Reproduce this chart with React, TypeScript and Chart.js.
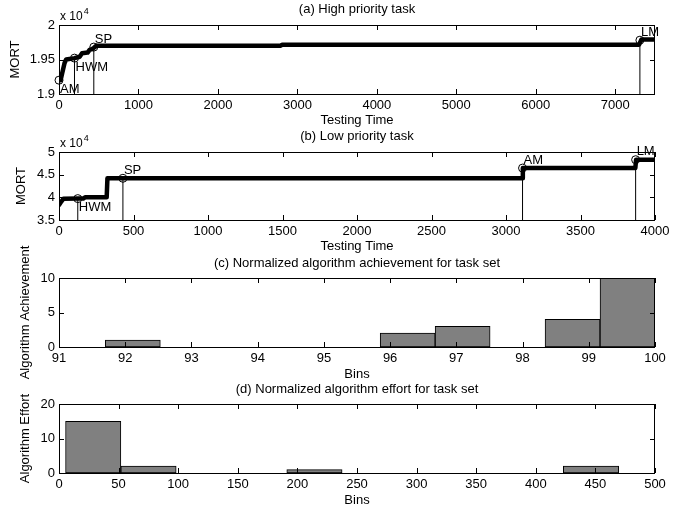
import React, { useEffect, useRef } from 'react';
import { Chart, registerables } from 'chart.js';

Chart.register(...registerables);

const FONT_FAMILY = '"Liberation Sans", Arial, Helvetica, sans-serif';
const FS = 13;

// (a) High priority task
const highTime = [0, 20, 40, 70, 90, 195, 260, 290, 360, 385, 415, 440, 470, 2790, 2810, 7300, 7330, 7500];
const highMort = [19200, 19200, 19300, 19450, 19500, 19520, 19540, 19590, 19600, 19640, 19650, 19670, 19700, 19700, 19715, 19715, 19790, 19790];
const highMarkName = ['AM', 'HWM', 'SP', 'LM'];
const highMarkTime = [0, 195, 438, 7310];
const highMarkMort = [19200, 19520, 19680, 19780];
const highMarkSide = ['below', 'below', 'above', 'above'];
const highXTicks = [0, 1000, 2000, 3000, 4000, 5000, 6000, 7000];
const highYTicks = [19000, 19500, 20000];

// (b) Low priority task
const lowTime = [0, 10, 30, 126, 165, 175, 320, 325, 3108, 3113, 3868, 3873, 4000];
const lowMort = [38300, 38800, 39700, 39720, 39750, 40000, 40000, 44200, 44200, 46450, 46450, 48300, 48300];
const lowMarkName = ['HWM', 'SP', 'AM', 'LM'];
const lowMarkTime = [126, 429, 3111, 3870];
const lowMarkMort = [39720, 44200, 46450, 48300];
const lowMarkSide = ['below', 'above', 'above', 'above'];
const lowXTicks = [0, 500, 1000, 1500, 2000, 2500, 3000, 3500, 4000];
const lowYTicks = [35000, 40000, 45000, 50000];

// (c) Normalized algorithm achievement histogram
const achieveBins = [92.115, 92.945, 93.775, 94.605, 95.435, 96.265, 97.095, 97.925, 98.755, 99.585];
const achieveCounts = [1, 0, 0, 0, 0, 2, 3, 0, 4, 10];
const achieveXTicks = [91, 92, 93, 94, 95, 96, 97, 98, 99, 100];
const achieveYTicks = [0, 5, 10];

// (d) Normalized algorithm effort histogram
const effortBins = [28.7, 75.1, 121.5, 167.9, 214.3, 260.7, 307.1, 353.5, 399.9, 446.3];
const effortCounts = [15, 2, 0, 0, 1, 0, 0, 0, 0, 2];
const effortXTicks = [0, 50, 100, 150, 200, 250, 300, 350, 400, 450, 500];
const effortYTicks = [0, 10, 20];

const font = { family: FONT_FAMILY, size: FS };

function decorPlugin(p: any) {
  return {
    id: 'decor_' + p.key,
    afterDraw(chart: any) {
      const { ctx, chartArea: a, scales } = chart;
      const xs = scales.x;
      const ys = scales.y;
      ctx.save();
      ctx.strokeStyle = '#000';
      ctx.lineWidth = 1;
      const L = 5;
      ctx.beginPath();
      xs.ticks.forEach((t: any) => {
        const px = Math.round(xs.getPixelForValue(t.value)) + 0.5;
        ctx.moveTo(px, a.bottom);
        ctx.lineTo(px, a.bottom - L);
        ctx.moveTo(px, a.top);
        ctx.lineTo(px, a.top + L);
      });
      ys.ticks.forEach((t: any) => {
        const py = Math.round(ys.getPixelForValue(t.value)) + 0.5;
        ctx.moveTo(a.left, py);
        ctx.lineTo(a.left + L, py);
        ctx.moveTo(a.right, py);
        ctx.lineTo(a.right - L, py);
      });
      ctx.stroke();
      ctx.strokeRect(a.left + 0.5, a.top + 0.5, a.right - a.left - 1, a.bottom - a.top);

      ctx.fillStyle = '#000';
      ctx.font = `${FS}px ${FONT_FAMILY}`;
      ctx.textBaseline = 'middle';
      ctx.textAlign = 'center';
      ctx.fillText(p.title, (a.left + a.right) / 2, a.top - p.titleGap);

      if (p.exponent) {
        ctx.textAlign = 'left';
        const base = 'x 10';
        ctx.font = `${FS - 1}px ${FONT_FAMILY}`;
        ctx.fillText(base, a.left + 1, a.top - 8);
        const w = ctx.measureText(base).width;
        ctx.font = `9px ${FONT_FAMILY}`;
        ctx.fillText(p.exponent, a.left + 1 + w + 1, a.top - 13);
      }

      if (p.marks) {
        ctx.font = `${FS}px ${FONT_FAMILY}`;
        ctx.textAlign = 'left';
        p.marks.names.forEach((n: string, i: number) => {
          const px = xs.getPixelForValue(p.marks.times[i]);
          const py = ys.getPixelForValue(p.marks.values[i]);
          const dy = p.marks.sides[i] === 'below' ? 9 : -8;
          ctx.fillText(n, px + 1, py + dy);
        });
      }
      ctx.restore();
    },
  };
}

function makeOptions(p: any) {
  return {
    responsive: false,
    animation: false,
    events: [],
    layout: { padding: { left: 0, right: 31, top: p.areaTop, bottom: 0 } },
    plugins: { legend: { display: false }, tooltip: { enabled: false }, title: { display: false } },
    scales: {
      x: {
        type: 'linear',
        min: p.xMin,
        max: p.xMax,
        offset: false,
        grid: { display: false, drawTicks: false },
        border: { display: false },
        ticks: { color: '#000', font, padding: 4, maxRotation: 0, autoSkip: false, callback: (v: number) => String(v) },
        afterBuildTicks: (s: any) => { s.ticks = p.xTicks.map((v: number) => ({ value: v })); },
        title: { display: true, text: p.xTitle, color: '#000', font, padding: { top: 0, bottom: p.xTitlePad } },
        afterFit: (s: any) => { s.height = p.axisH; },
      },
      y: {
        type: 'linear',
        min: p.yMin,
        max: p.yMax,
        grid: { display: false, drawTicks: false },
        border: { display: false },
        ticks: { color: '#000', font, padding: 4, callback: p.yFmt },
        afterBuildTicks: (s: any) => { s.ticks = p.yTicks.map((v: number) => ({ value: v })); },
        title: { display: true, text: p.yTitle, color: '#000', font, padding: { top: p.yTitlePad, bottom: 0 } },
        afterFit: (s: any) => { s.width = 59; },
      },
    },
  };
}

function lineConfig(key: string, time: number[], mort: number[], names: string[], mt: number[], mv: number[], sides: string[], p: any) {
  const verticals = mt.map((t, i) => ({
    data: [{ x: t, y: p.yMin }, { x: t, y: mv[i] }],
    borderColor: '#000',
    borderWidth: 1,
    pointRadius: 0,
    showLine: true,
  }));
  return {
    type: 'scatter',
    data: {
      datasets: [
        {
          data: mt.map((t, i) => ({ x: t, y: mv[i] })),
          pointRadius: 4,
          pointBorderWidth: 1,
          pointBorderColor: '#000',
          pointBackgroundColor: 'rgba(0,0,0,0)',
          showLine: false,
          clip: false,
        },
        {
          data: time.map((t, i) => ({ x: t, y: mort[i] })),
          borderColor: '#000',
          borderWidth: 4.5,
          borderJoinStyle: 'round',
          borderCapStyle: 'round',
          pointRadius: 0,
          showLine: true,
        },
        ...verticals,
      ],
    },
    options: makeOptions(p),
    plugins: [decorPlugin({ key, title: p.title, titleGap: p.titleGap, exponent: '4', marks: { names, times: mt, values: mv, sides } })],
  };
}

function barConfig(key: string, bins: number[], counts: number[], p: any) {
  return {
    type: 'bar',
    data: {
      datasets: [
        {
          data: bins.map((b, i) => ({ x: b, y: counts[i] })),
          backgroundColor: '#808080',
          borderColor: '#000',
          borderWidth: 1,
          borderSkipped: false,
          barPercentage: 1,
          categoryPercentage: 1,
        },
      ],
    },
    options: makeOptions(p),
    plugins: [decorPlugin({ key, title: p.title, titleGap: p.titleGap })],
  };
}

const fmtE4 = (v: number) => String(v / 10000);
const fmtInt = (v: number) => String(v);

const panels = [
  {
    top: 0,
    height: 130,
    build: () =>
      lineConfig('a', highTime, highMort, highMarkName, highMarkTime, highMarkMort, highMarkSide, {
        title: '(a) High priority task', titleGap: 16, areaTop: 25, axisH: 36, xTitlePad: 2.2, yTitlePad: 8,
        xMin: 0, xMax: 7500, xTicks: highXTicks, yMin: 19000, yMax: 20000, yTicks: highYTicks, yFmt: fmtE4,
        xTitle: 'Testing Time', yTitle: 'MORT',
      }),
  },
  {
    top: 130,
    height: 126,
    build: () =>
      lineConfig('b', lowTime, lowMort, lowMarkName, lowMarkTime, lowMarkMort, lowMarkSide, {
        title: '(b) Low priority task', titleGap: 16, areaTop: 22, axisH: 36, xTitlePad: 2.2, yTitlePad: 14,
        xMin: 0, xMax: 4000, xTicks: lowXTicks, yMin: 35000, yMax: 50000, yTicks: lowYTicks, yFmt: fmtE4,
        xTitle: 'Testing Time', yTitle: 'MORT',
      }),
  },
  {
    top: 236,
    height: 148,
    build: () =>
      barConfig('c', achieveBins, achieveCounts, {
        title: '(c) Normalized algorithm achievement for task set', titleGap: 15, areaTop: 42, axisH: 37, xTitlePad: 2.2, yTitlePad: 18,
        xMin: 91, xMax: 100, xTicks: achieveXTicks, yMin: 0, yMax: 10, yTicks: achieveYTicks, yFmt: fmtInt,
        xTitle: 'Bins', yTitle: 'Algorithm Achievement',
      }),
  },
  {
    top: 384,
    height: 126,
    build: () =>
      barConfig('d', effortBins, effortCounts, {
        title: '(d) Normalized algorithm effort for task set', titleGap: 15, areaTop: 20, axisH: 37, xTitlePad: 2.2, yTitlePad: 18,
        xMin: 0, xMax: 500, xTicks: effortXTicks, yMin: 0, yMax: 20, yTicks: effortYTicks, yFmt: fmtInt,
        xTitle: 'Bins', yTitle: 'Algorithm Effort',
      }),
  },
];

function Panel({ top, height, build }: { top: number; height: number; build: () => any }) {
  const ref = useRef<HTMLCanvasElement>(null);
  useEffect(() => {
    const chart = new Chart(ref.current as HTMLCanvasElement, build());
    return () => chart.destroy();
  }, []);
  return (
    <canvas
      ref={ref}
      width={686}
      height={height}
      style={{ position: 'absolute', left: 0, top, width: 686, height }}
    />
  );
}

export default function App() {
  return (
    <div style={{ position: 'absolute', left: 0, top: 0, width: 686, height: 510, background: '#fff', overflow: 'hidden' }}>
      {panels.map((p, i) => (
        <Panel key={i} top={p.top} height={p.height} build={p.build} />
      ))}
    </div>
  );
}
